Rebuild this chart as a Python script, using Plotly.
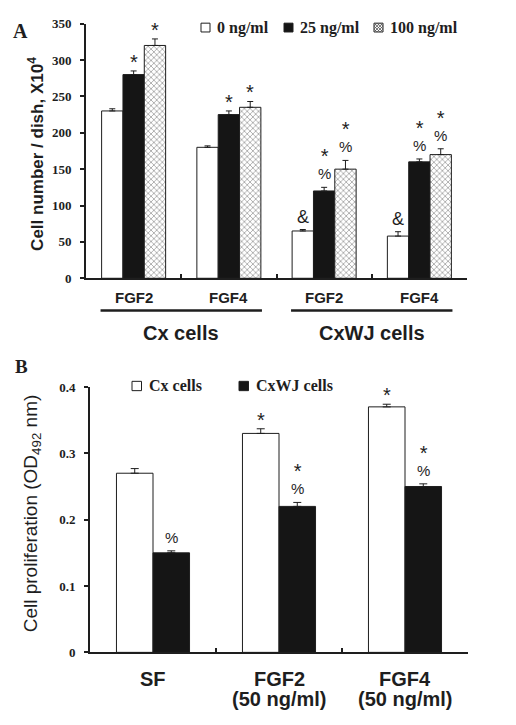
import plotly.graph_objects as go

# ---------------- Data: panel A ----------------
groups_A = ["FGF2", "FGF4", "FGF2", "FGF4"]
cells_A = ["Cx cells", "CxWJ cells"]
doses_A = ["0 ng/ml", "25 ng/ml", "100 ng/ml"]
vals_0 = [230, 180, 65, 58]
vals_25 = [280, 225, 120, 160]
vals_100 = [320, 235, 150, 170]
err_0 = [3, 2, 2, 6]
err_25 = [5, 5, 5, 4]
err_100 = [9, 8, 12, 8]
marks_0 = [[], [], ["&"], ["&"]]
marks_25 = [["*"], ["*"], ["%", "*"], ["%", "*"]]
marks_100 = [["*"], ["*"], ["%", "*"], ["%", "*"]]
yticks_A = [0, 50, 100, 150, 200, 250, 300, 350]

# ---------------- Data: panel B ----------------
treat_B = ["SF", "FGF2<br>(50 ng/ml)", "FGF4<br>(50 ng/ml)"]
series_B = ["Cx cells", "CxWJ cells"]
cx_B = [0.27, 0.33, 0.37]
cx_err_B = [0.007, 0.007, 0.004]
wj_B = [0.15, 0.22, 0.25]
wj_err_B = [0.003, 0.006, 0.004]
marks_cx_B = [[], ["*"], ["*"]]
marks_wj_B = [["%"], ["%", "*"], ["%", "*"]]
yticks_B = [0, 0.1, 0.2, 0.3, 0.4]

W, H = 516, 725
def px(x): return x / W
def py(y): return 1 - y / H

SERIF = "Times New Roman, Liberation Serif, serif"
SANS = "Arial, Liberation Sans, sans-serif"
INK = "#1e1e1e"
BLACK = "#151515"

fig = go.Figure()

# ---- panel A bars ----
xA = list(range(len(groups_A)))
wA = 0.224
hatch = dict(shape="x", size=4, solidity=0.35, fgcolor="#3a3a3a", bgcolor="white")
styles_A = [("white", None), (BLACK, None), ("white", hatch)]
vals_A = [vals_0, vals_25, vals_100]
errs_A = [err_0, err_25, err_100]
marks_A = [marks_0, marks_25, marks_100]
for i, (name, v, e, st) in enumerate(zip(doses_A, vals_A, errs_A, styles_A)):
    marker = dict(color=st[0], line=dict(color=INK, width=1))
    if st[1]:
        marker["pattern"] = st[1]
    fig.add_trace(go.Bar(
        x=xA, y=v, name=name, width=wA, offset=(-1.5 + i) * wA,
        marker=marker, xaxis="x", yaxis="y", showlegend=False,
        error_y=dict(type="data", array=e, arrayminus=[0] * len(e), symmetric=False,
                     color=INK, thickness=1, width=3),
    ))

# ---- panel B bars ----
xB = list(range(len(treat_B)))
wB = 0.29
for i, (name, v, e, col) in enumerate(zip(series_B, [cx_B, wj_B], [cx_err_B, wj_err_B], ["white", BLACK])):
    fig.add_trace(go.Bar(
        x=xB, y=v, name=name, width=wB, offset=(-1 + i) * wB,
        marker=dict(color=col, line=dict(color=INK, width=1)),
        xaxis="x2", yaxis="y2", showlegend=False,
        error_y=dict(type="data", array=e, arrayminus=[0] * len(e), symmetric=False,
                     color=INK, thickness=1, width=4),
    ))

annotations = []
shapes = []
SPAN = {"*": "<span style='font-size:20px'>*</span>",
        "%": "<span style='font-size:15px'>%</span>",
        "&": "<span style='font-size:18px'>&</span>"}
SHIFT = {"*": -3, "%": 4, "&": 2}

def add_marks(xs, vals, errs, marks, offset, w, xref, yref):
    for x, v, e, ms in zip(xs, vals, errs, marks):
        if not ms:
            continue
        annotations.append(dict(
            x=x + offset + w / 2, y=v + e, xref=xref, yref=yref,
            text="<br>".join(SPAN[m] for m in reversed(ms)),
            showarrow=False, xanchor="center", yanchor="bottom",
            yshift=SHIFT[ms[0]], borderpad=0,
            font=dict(family=SANS, size=12, color=INK)))

for i in range(3):
    add_marks(xA, vals_A[i], errs_A[i], marks_A[i], (-1.5 + i) * wA, wA, "x", "y")
add_marks(xB, cx_B, cx_err_B, marks_cx_B, -wB, wB, "x2", "y2")
add_marks(xB, wj_B, wj_err_B, marks_wj_B, 0, wB, "x2", "y2")

# panel A group labels
for x, g in zip(xA, groups_A):
    annotations.append(dict(x=x, y=py(297), xref="x", yref="paper", text=g, showarrow=False,
                            xanchor="center", yanchor="middle",
                            font=dict(family=SANS, size=15, color=INK, weight="bold")))
for j, c in enumerate(cells_A):
    a, b = xA[2 * j], xA[2 * j + 1]
    annotations.append(dict(x=(a + b) / 2, y=py(333), xref="x", yref="paper", text=c, showarrow=False,
                            xanchor="center", yanchor="middle",
                            font=dict(family=SANS, size=20, color=INK, weight="bold")))
    shapes.append(dict(type="line", xref="x", yref="paper", x0=a - 1.55 * wA, x1=b + 1.55 * wA,
                       y0=py(310), y1=py(310), line=dict(color=INK, width=2.5)))

# panel B category labels
for x, t in zip(xB, treat_B):
    for k, line in enumerate(t.split("<br>")):
        annotations.append(dict(x=x, y=py(686 + 21 * k), xref="x2", yref="paper", text=line,
                                showarrow=False, xanchor="center", yanchor="middle",
                                font=dict(family=SANS, size=20, color=INK, weight="bold")))

# axis titles
annotations.append(dict(x=px(36), y=py(150), xref="paper", yref="paper", textangle=-90, showarrow=False,
                        xanchor="center", yanchor="middle",
                        text="Cell number / dish, X10<sup>4</sup>",
                        font=dict(family=SANS, size=17, color=INK, weight="bold")))
annotations.append(dict(x=px(32), y=py(517), xref="paper", yref="paper", textangle=-90, showarrow=False,
                        xanchor="center", yanchor="middle",
                        text="Cell proliferation (OD<sub>492</sub> nm)",
                        font=dict(family=SANS, size=19, color=INK)))
# panel letters
annotations.append(dict(x=px(20), y=py(24), xref="paper", yref="paper", text="A", showarrow=False,
                        xanchor="center", yanchor="middle",
                        font=dict(family=SERIF, size=20, color=INK, weight="bold")))
annotations.append(dict(x=px(21), y=py(367), xref="paper", yref="paper", text="B", showarrow=False,
                        xanchor="center", yanchor="middle",
                        font=dict(family=SERIF, size=19, color=INK, weight="bold")))

# ---- manual legends (key box + label) ----
def legend_item(x_px, y_px, size, label, kind, fsize):
    x0, x1 = px(x_px), px(x_px + size)
    y0, y1 = py(y_px + size / 2), py(y_px - size / 2)
    fill = BLACK if kind == "black" else "white"
    shapes.append(dict(type="rect", xref="paper", yref="paper", x0=x0, x1=x1, y0=y0, y1=y1,
                       fillcolor=fill, line=dict(color=INK, width=1)))
    if kind == "hatch":
        step = 3
        segs = []
        for d in range(-int(size) + step, int(size), step):
            ax0, ay0 = max(0, d), max(0, -d)
            ax1, ay1 = min(size, size + d), min(size, size - d)
            segs.append(f"M{px(x_px + ax0)},{py(y_px - size/2 + ay0)}L{px(x_px + ax1)},{py(y_px - size/2 + ay1)}")
            segs.append(f"M{px(x_px + size - ax0)},{py(y_px - size/2 + ay0)}L{px(x_px + size - ax1)},{py(y_px - size/2 + ay1)}")
        shapes.append(dict(type="path", xref="paper", yref="paper", path="".join(segs),
                           line=dict(color="#555", width=0.8)))
    annotations.append(dict(x=px(x_px + size + 5), y=py(y_px), xref="paper", yref="paper", text=label,
                            showarrow=False, xanchor="left", yanchor="middle",
                            font=dict(family=SERIF, size=fsize, color=INK, weight="bold")))

kinds_A = ["white", "black", "hatch"]
legend_x_A = [201, 284, 374]
for xp, lab, kd in zip(legend_x_A, doses_A, kinds_A):
    legend_item(xp, 21, 9, lab, kd, 16)
legend_x_B = [132, 239]
for xp, lab, kd in zip(legend_x_B, series_B, ["white", "black"]):
    legend_item(xp, 387, 9.5, lab, kd, 16)

axis_common = dict(showgrid=False, zeroline=False, showline=True, linecolor=INK, linewidth=2)
fig.update_layout(
    width=W, height=H, margin=dict(l=0, r=0, t=0, b=0),
    paper_bgcolor="white", plot_bgcolor="white",
    barmode="overlay", showlegend=False,
    xaxis=dict(domain=[px(86), px(467)], range=[-0.5, len(groups_A) - 0.5], anchor="y",
               tickvals=[k + 0.5 for k in xA], showticklabels=False, ticks="inside", ticklen=4,
               tickcolor=INK, tickwidth=2, **axis_common),
    yaxis=dict(domain=[py(277), py(17)], range=[0, 350], anchor="x", tickvals=yticks_A,
               ticks="outside", ticklen=4, tickcolor=INK, tickwidth=2, ticklabelstandoff=6,
               tickfont=dict(family=SERIF, size=13, color=INK, weight="bold"), **axis_common),
    xaxis2=dict(domain=[px(90), px(468)], range=[-0.5, len(treat_B) - 0.5], anchor="y2",
                tickvals=[k + 0.5 for k in xB], showticklabels=False, ticks="inside", ticklen=4,
                tickcolor=INK, tickwidth=2, **axis_common),
    yaxis2=dict(domain=[py(659), py(388)], range=[0, 0.4], anchor="x2", tickvals=yticks_B,
                ticktext=["0", "0.1", "0.2", "0.3", "0.4"],
                ticks="outside", ticklen=4, tickcolor=INK, tickwidth=2, ticklabelstandoff=6,
                tickfont=dict(family=SERIF, size=13, color=INK, weight="bold"), **axis_common),
    annotations=annotations, shapes=shapes,
)

fig.write_html("out.html", config={"displayModeBar": False, "staticPlot": True},
               post_script="document.body.style.margin='0';document.body.style.overflow='hidden';")
